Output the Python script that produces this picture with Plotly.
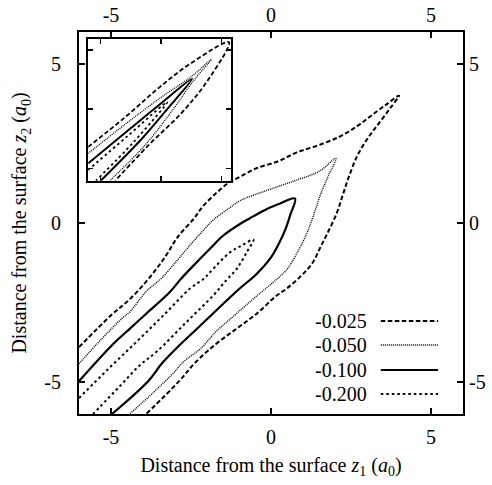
import plotly.graph_objects as go

# ---------------- data ----------------
levels = ["-0.025", "-0.050", "-0.100", "-0.200"]

# main panel contours: z1, z2 (a0); upper branch -> tip -> lower branch
z1_025 = [-6.0, -5.0, -4.4, -3.8, -3.3, -2.9, -2.4, -2.15, -1.7, -1.3, -0.97, -0.5, 0.25, 0.81, 1.5, 2.16, 2.7, 3.09, 3.6, 4.0,
          3.72, 3.34, 3.05, 2.72, 2.45, 2.25, 2.05, 1.75, 1.55, 1.3, 0.95, 0.5, 0.15, -0.45, -1.05, -1.72, -2.38, -2.9, -3.9]
z2_025 = [-3.9, -2.9, -2.38, -1.72, -1.05, -0.42, 0.15, 0.5, 0.95, 1.28, 1.45, 1.7, 1.95, 2.22, 2.45, 2.72, 3.05, 3.34, 3.72, 4.0,
          3.6, 3.09, 2.7, 2.16, 1.5, 0.9, 0.3, -0.35, -0.75, -1.25, -1.65, -2.05, -2.3, -2.85, -3.3, -3.8, -4.4, -5.0, -6.0]

z1_050 = [-6.0, -5.3, -4.66, -4.4, -3.9, -3.44, -2.97, -2.6, -2.16, -1.8, -1.3, -0.97, -0.2, 0.75, 1.5, 2.03,
          1.8, 1.55, 1.35, 1.15, 0.9, 0.5, 0.05, -0.4, -0.8, -1.22, -1.75, -2.15, -2.78, -3.0, -3.65, -4.42]
z2_050 = [-4.42, -3.65, -3.0, -2.78, -2.15, -1.75, -1.22, -0.78, -0.28, 0.1, 0.47, 0.7, 1.0, 1.33, 1.62, 2.03,
          1.5, 0.9, 0.3, -0.25, -0.78, -1.45, -1.88, -2.25, -2.6, -2.97, -3.44, -3.9, -4.4, -4.66, -5.3, -6.0]

z1_100 = [-6.0, -4.97, -4.4, -3.9, -3.16, -2.81, -2.32, -1.9, -1.5, -0.97, -0.66, -0.25, 0.2, 0.75,
          0.6, 0.45, 0.22, 0.0, -0.45, -0.97, -1.4, -1.85, -2.32, -2.9, -3.4, -3.84, -4.97]
z2_100 = [-4.97, -3.84, -3.31, -2.85, -2.17, -1.75, -1.23, -0.8, -0.4, -0.03, 0.15, 0.38, 0.58, 0.77,
          0.25, -0.2, -0.7, -1.08, -1.6, -2.05, -2.45, -2.88, -3.33, -3.88, -4.4, -4.97, -6.0]

z1_200 = [-6.0, -5.1, -4.2, -3.36, -2.53, -2.1, -1.9, -1.28, -0.9, -0.55,
          -0.76, -1.07, -1.4, -1.8, -2.63, -3.57, -4.09, -4.7, -5.56]
z2_200 = [-5.5, -4.6, -3.73, -2.9, -2.06, -1.75, -1.54, -0.92, -0.7, -0.52,
          -0.92, -1.44, -1.8, -2.27, -3.1, -4.04, -4.46, -5.1, -6.0]

# inset contours (unlabelled axes)
u_025 = [-0.21, 0.4, 0.95, 1.5, 2.12, 1.78, 1.35, 0.8, 0.24]
v_025 = [0.36, 0.86, 1.35, 1.78, 2.13, 1.5, 0.95, 0.4, -0.21]
u_050 = [-0.21, 0.4, 1.0, 1.5, 1.83, 1.55, 1.2, 0.74, 0.15]
v_050 = [0.25, 0.74, 1.2, 1.55, 1.84, 1.5, 1.0, 0.4, -0.21]
u_100 = [-0.21, 0.5, 1.0, 1.51, 1.1, 0.68, 0.0]
v_100 = [0.08, 0.68, 1.1, 1.51, 1.0, 0.5, -0.21]
u_200 = [-0.21, 0.45, 1.1, 0.55, -0.08]
v_200 = [-0.03, 0.55, 1.12, 0.45, -0.21]

main_tick_vals = [-5, 0, 5]
main_tick_text = ["-5", "0", "5"]
inset_tick_vals = [0, 1, 2]

# ---------------- styles ----------------
FONT = "Liberation Serif"
FS = 20
styles = [
    dict(color="black", width=2, dash="4.5px,2.5px"),
    dict(color="black", width=1.4, dash="1px,1px"),
    dict(color="black", width=2.2, dash="solid"),
    dict(color="black", width=2, dash="2.5px,3px"),
]

main_x = [z1_025, z1_050, z1_100, z1_200]
main_y = [z2_025, z2_050, z2_100, z2_200]
ins_x = [u_025, u_050, u_100, u_200]
ins_y = [v_025, v_050, v_100, v_200]

fig = go.Figure()
for lab, xs, ys, st in zip(levels, main_x, main_y, styles):
    fig.add_trace(go.Scatter(x=xs, y=ys, mode="lines", line=st, name=lab,
                             showlegend=False, hoverinfo="skip", line_shape="spline"))
# helper trace so the mirrored label axes are drawn
fig.add_trace(go.Scatter(x=[], y=[], xaxis="x2", yaxis="y2", showlegend=False, hoverinfo="skip"))
for lab, xs, ys, st in zip(levels, ins_x, ins_y, styles):
    s = dict(st)
    s["width"] = st["width"] * 0.9
    fig.add_trace(go.Scatter(x=xs, y=ys, mode="lines", line=s, name=lab, xaxis="x3", yaxis="y3",
                             showlegend=False, hoverinfo="skip", line_shape="spline"))

axis_common = dict(range=[-6, 6], tickvals=main_tick_vals, ticktext=main_tick_text, automargin=False,
                   showgrid=False, zeroline=False, tickfont=dict(family=FONT, size=FS, color="black"))

fig.update_layout(
    width=492, height=485,
    margin=dict(l=79, r=29, t=32, b=71),
    paper_bgcolor="white", plot_bgcolor="white",
    font=dict(family=FONT, size=FS, color="black"),
    xaxis=dict(**axis_common, ticks="inside", ticklen=6, tickwidth=1.5, tickcolor="black",
               showline=True, linewidth=2, linecolor="black", mirror="ticks", ticklabelstandoff=4,
               title=dict(text="Distance from the surface <i>z</i><sub>1</sub> (<i>a</i><sub>0</sub>)",
                          font=dict(family=FONT, size=FS), standoff=11)),
    yaxis=dict(**axis_common, ticks="inside", ticklen=6, tickwidth=1.5, tickcolor="black",
               showline=True, linewidth=2, linecolor="black", mirror="ticks", ticklabelstandoff=12,
               title=dict(text="Distance from the surface <i>z</i><sub>2</sub> (<i>a</i><sub>0</sub>)",
                          font=dict(family=FONT, size=FS), standoff=12)),
    xaxis2=dict(**axis_common, overlaying="x", side="top", anchor="y", ticks="", showline=False,
                ticklabelstandoff=5),
    yaxis2=dict(**axis_common, overlaying="y", side="right", anchor="x", ticks="", showline=False,
                ticklabelstandoff=5),
    xaxis3=dict(domain=[0.0242, 0.395], anchor="y3", range=[-0.205, 2.149], tickvals=inset_tick_vals,
                showticklabels=False, ticks="inside", ticklen=5, tickwidth=1.5, tickcolor="black",
                showline=True, linewidth=2, linecolor="black", mirror="ticks",
                showgrid=False, zeroline=False),
    yaxis3=dict(domain=[0.6107, 0.9809], anchor="x3", range=[-0.209, 2.179], tickvals=inset_tick_vals,
                showticklabels=False, ticks="inside", ticklen=5, tickwidth=1.5, tickcolor="black",
                showline=True, linewidth=2, linecolor="black", mirror="ticks",
                showgrid=False, zeroline=False),
)

# gnuplot-style key: label on the left, line sample on the right
key_rows = [0.2435, 0.1806, 0.1152, 0.0524]
for lab, yk, st in zip(levels, key_rows, styles):
    fig.add_annotation(x=0.755, y=yk, xref="paper", yref="paper", text=lab, showarrow=False,
                       xanchor="right", yanchor="middle", font=dict(family=FONT, size=FS, color="black"))
    fig.add_shape(type="line", xref="paper", yref="paper", x0=0.786, x1=0.935, y0=yk, y1=yk,
                  line=st)

# remove the browser's default 8px body margin so the figure fills the window
fig.write_html("out.html", config={"displayModeBar": False, "staticPlot": True},
               post_script="document.body.style.margin='0';document.body.style.overflow='hidden';")
